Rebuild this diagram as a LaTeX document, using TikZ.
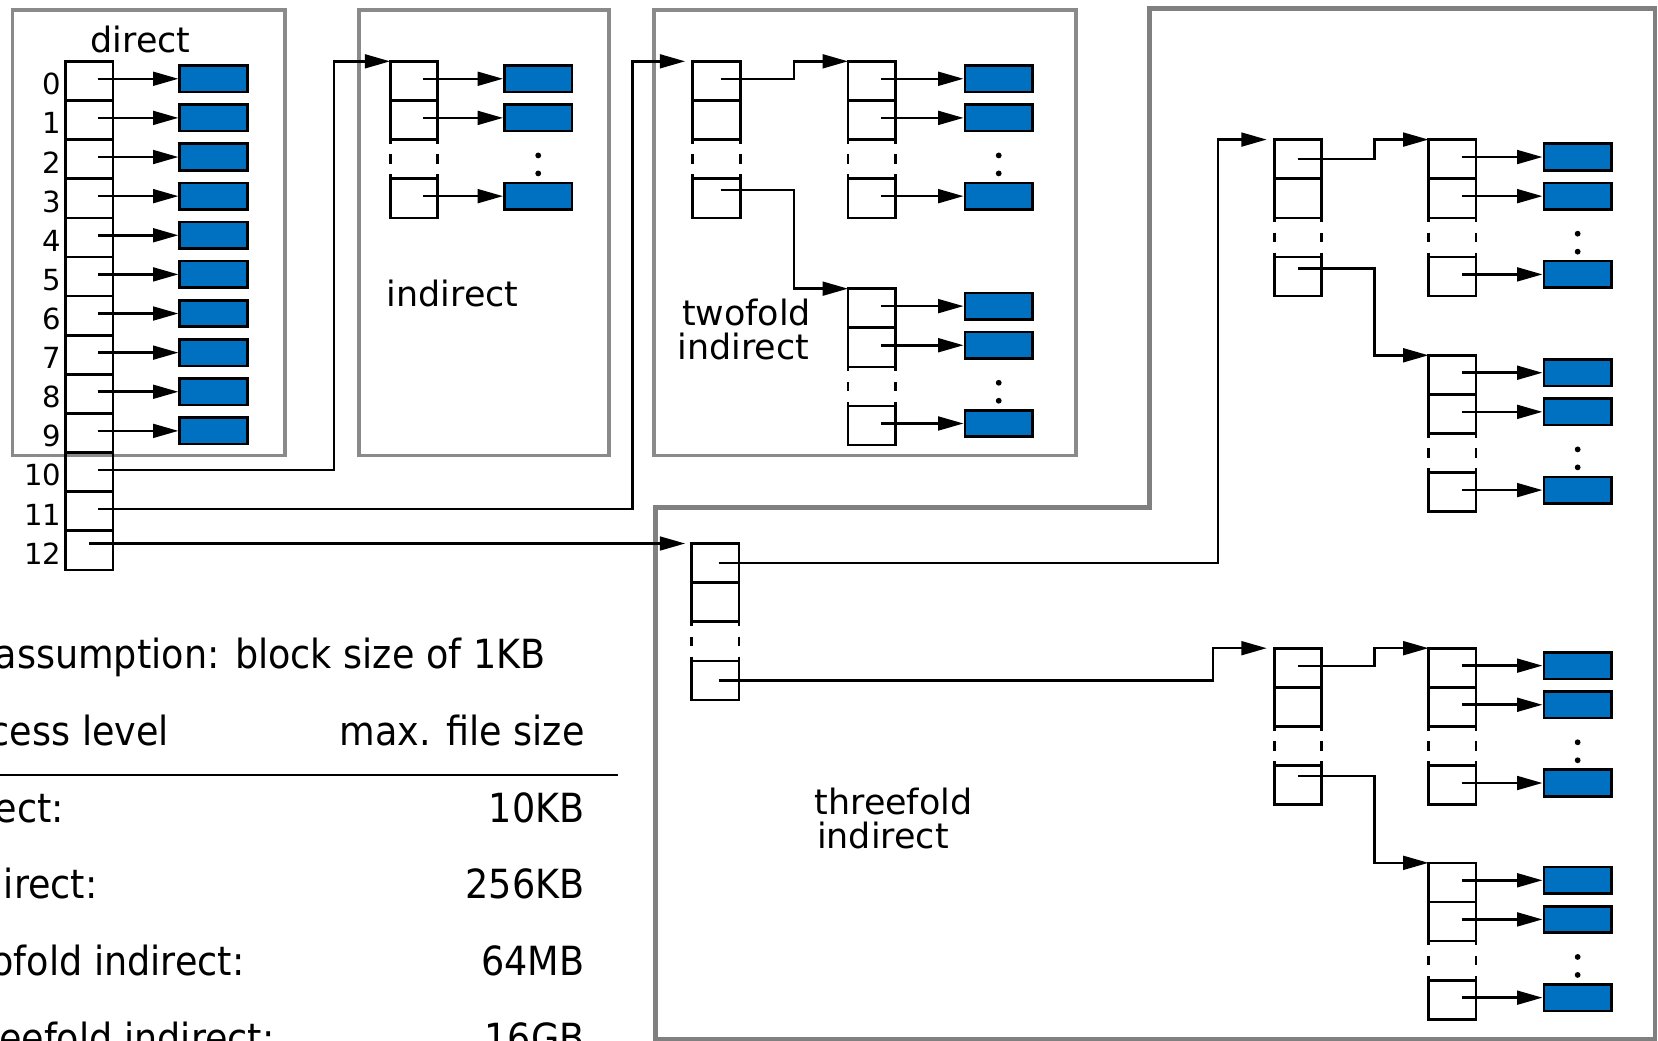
\documentclass[tikz,border=0pt]{standalone}
\usepackage{fontspec}
\setmainfont{DejaVu Sans}
\newfontfamily\condfont[FakeStretch=0.91]{DejaVu Sans}
\usetikzlibrary{arrows.meta,calc}
\definecolor{blockblue}{HTML}{0070C0}
\definecolor{framegray}{HTML}{808080}
\definecolor{dithgray}{HTML}{8A8A8A}
\tikzset{
  cell/.style={draw, line width=2.5pt, minimum width=45pt, minimum height=37pt, inner sep=0pt, outer sep=0pt, anchor=north west},
  blk/.style={draw, fill=blockblue, line width=2.5pt, minimum width=64pt, minimum height=25pt, inner sep=0pt},
  conn/.style={line width=2.4pt, -{Triangle[length=24pt,width=13pt]}},
  gapline/.style={line width=2.5pt, dash pattern=on 4pt off 10pt on 9pt off 10pt on 4pt off 100pt},
  grp/.style={draw=dithgray, line width=3.5pt, anchor=north west, inner sep=0pt},
  lab/.style={font=\fontsize{33}{36}\selectfont, inner sep=0pt},
  num/.style={font=\fontsize{27.5}{30}\selectfont, inner sep=0pt, anchor=east},
  tab/.style={font=\condfont\fontsize{38}{42}\selectfont, inner sep=0pt},
  dot/.style={circle, fill, inner sep=0pt, minimum size=5.5pt},
}
\newcommand\ptrcol[3]{%
  \node[cell] (#1a) at (#2,#3) {};
  \node[cell] (#1b) at (#2,{#3+37}) {};
  \node[cell] (#1c) at (#2,{#3+111}) {};
  \draw[gapline] (#1b.south west) -- (#1c.north west);
  \draw[gapline] (#1b.south east) -- (#1c.north east);
}
\newcommand\leafcol[4]{%
  \ptrcol{#1}{#2}{#3}
  \node[blk] (#1x1) at (#4,{#3+16.5}) {};
  \node[blk] (#1x2) at (#4,{#3+53.5}) {};
  \node[blk] (#1x3) at (#4,{#3+127.5}) {};
  \node[dot] (#1d1) at (#4,{#3+89}) {};
  \node[dot] (#1d2) at (#4,{#3+106}) {};
  \draw[conn] ($(#1a.center)+(9,-2)$) -- (#1x1.west);
  \draw[conn] ($(#1b.center)+(9,-2)$) -- (#1x2.west);
  \draw[conn] ($(#1c.center)+(9,-2)$) -- (#1x3.west);
}
\begin{document}
\begin{tikzpicture}[x=1pt,y=-1pt]
\useasboundingbox (0,0) rectangle (1568,984);
% group frames
\node[grp, minimum width=258pt, minimum height=421pt] (gdir) at (10,8) {};
\node[grp, minimum width=236pt, minimum height=421pt] (gind) at (338,8) {};
\node[grp, minimum width=399pt, minimum height=421pt] (gtwo) at (617,8) {};
\draw[framegray, line width=4pt] (620,983) -- (620,480) -- (1087,480) -- (1087,8) -- (1565,8) -- (1565,983) -- cycle;
% direct column
\foreach \i in {0,...,12} {
  \node[cell] (d\i) at (62,{58+37*\i}) {};
  \node[num] (n\i) at ($(d\i.west)+(-4,3)$) {\i};
}
\foreach \i in {0,...,9} {
  \node[blk] (db\i) at (202,{74.5+37*\i}) {};
  \draw[conn] ($(d\i.center)+(8,-2)$) -- (db\i.west);
}
\node[lab] (tdirect) at (133,37) {direct};
% indirect
\leafcol{i}{369}{58}{509}
\node[lab] (tind) at (428,278) {indirect};
% twofold
\ptrcol{A}{655}{58}
\leafcol{B}{802}{58}{944.5}
\leafcol{C}{802}{273}{944.5}
\draw[conn] ($(Aa.center)+(4,-2)$) -| ($(Ba.north west)+(-51,0)$) -- (Ba.north west);
\draw[conn] ($(Ac.center)+(4,-8)$) -| ($(Ca.north west)+(-51,0)$) -- (Ca.north west);
\node[lab] (t2a) at (706,296) {twofold};
\node[lab] (t2b) at (703,328) {indirect};
% threefold
\ptrcol{D}{654}{514}
\ptrcol{E}{1205}{132}
\ptrcol{G}{1205}{613}
\leafcol{F}{1351}{132}{1492}
\leafcol{H}{1351}{336}{1492}
\leafcol{J}{1351}{613}{1492}
\leafcol{K}{1351}{816}{1492}
\draw[conn] ($(Da.center)+(3,0)$) -| ($(Ea.north west)+(-53,0)$) -- ($(Ea.north west)+(-7,0)$);
\draw[conn] ($(Dc.center)+(3,0)$) -| ($(Ga.north west)+(-58,0)$) -- ($(Ga.north west)+(-7,0)$);
\draw[conn] ($(Ea.center)+(0,0)$) -| ($(Fa.north west)+(-51,0)$) -- (Fa.north west);
\draw[conn] ($(Ec.center)+(0,-7.5)$) -| ($(Ha.north west)+(-51,0)$) -- (Ha.north west);
\draw[conn] ($(Ga.center)+(0,-1.5)$) -| ($(Ja.north west)+(-51,0)$) -- (Ja.north west);
\draw[conn] ($(Gc.center)+(0,-8.5)$) -| ($(Ka.north west)+(-51,0)$) -- (Ka.north west);
\node[lab] (t3a) at (845,758) {threefold};
\node[lab] (t3b) at (835,790) {indirect};
% pointers from the inode
\draw[conn] ($(d10.center)+(8,-2)$) -| ($(ia.north west)+(-53,0)$) -- (ia.north west);
\draw[conn] ($(d11.center)+(8,-2)$) -| ($(Aa.north west)+(-57,0)$) -- ($(Aa.north west)+(-7,0)$);
\draw[conn] ($(d12.center)+(0,-6.5)$) -- ($(Da.north west)+(-6,0)$);
% table
\node[tab, anchor=base east] (assume) at (516,632) {assumption: block size of 1KB};
\node[tab, anchor=base west] (hlevel) at (-50,705) {access level};
\node[tab, anchor=base east] (hsize) at (553,705) {max. file size};
\coordinate (rulel) at (-40,733);
\coordinate (ruler) at (584,733);
\draw[line width=2pt] (rulel) -- (ruler);
\node[tab, anchor=base west] (l1) at (-50,777.5) {direct:};
\node[tab, anchor=base east] (v1) at (553,777.5) {10KB};
\node[tab, anchor=base west] (l2) at (-50,850) {indirect:};
\node[tab, anchor=base east] (v2) at (553,850) {256KB};
\node[tab, anchor=base west] (l3) at (-50,922.5) {twofold indirect:};
\node[tab, anchor=base east] (v3) at (553,922.5) {64MB};
\node[tab, anchor=base west] (l4) at (-50,995) {threefold indirect:};
\node[tab, anchor=base east] (v4) at (553,995) {16GB};
\end{tikzpicture}
\end{document}
